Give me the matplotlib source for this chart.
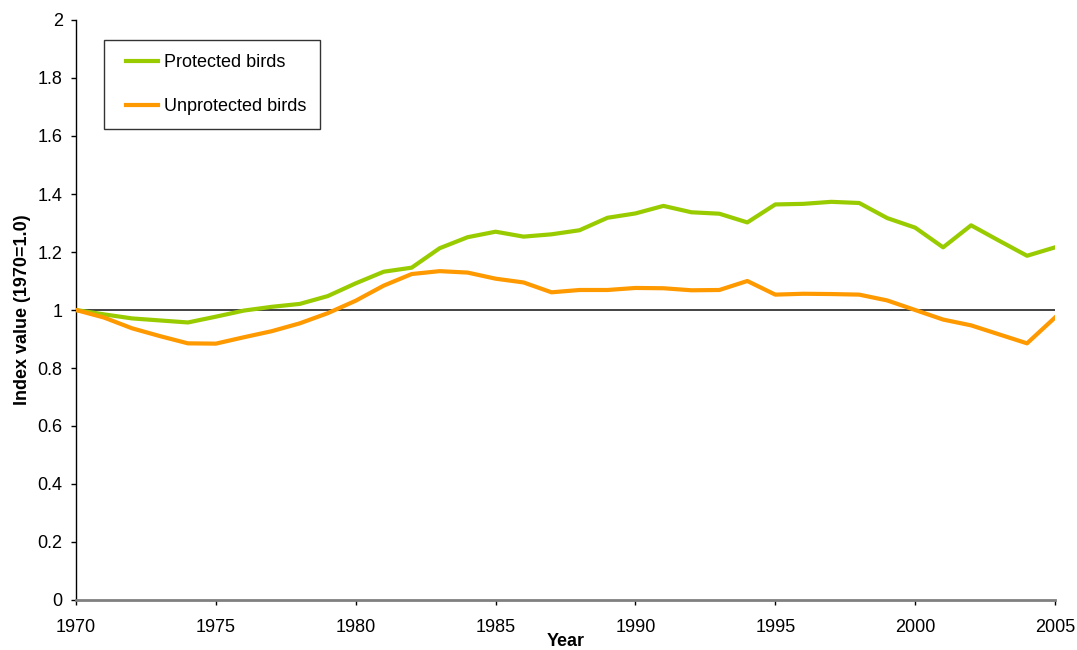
import matplotlib
matplotlib.use("Agg")
import matplotlib.pyplot as plt
from matplotlib.legend_handler import HandlerLine2D
import numpy as np

plt.rcParams['font.family'] = ['Liberation Sans', 'DejaVu Sans']

years = list(range(1970, 2006))
protected = [1.000, 0.985, 0.971, 0.964, 0.957, 0.977, 0.998, 1.011, 1.021, 1.048,
             1.092, 1.132, 1.146, 1.213, 1.251, 1.270, 1.253, 1.261, 1.275, 1.318,
             1.333, 1.359, 1.337, 1.332, 1.302, 1.364, 1.366, 1.373, 1.369, 1.317,
             1.284, 1.216, 1.292, 1.239, 1.187, 1.216]
unprotected = [1.000, 0.974, 0.937, 0.910, 0.885, 0.884, 0.906, 0.927, 0.954, 0.989,
               1.032, 1.084, 1.124, 1.134, 1.129, 1.108, 1.095, 1.061, 1.069, 1.069,
               1.076, 1.075, 1.068, 1.069, 1.100, 1.053, 1.056, 1.055, 1.053, 1.033,
               1.000, 0.967, 0.947, 0.916, 0.885, 0.974]
series_labels = ["Protected birds", "Unprotected birds"]
x_ticks = [1970, 1975, 1980, 1985, 1990, 1995, 2000, 2005]
y_ticks = [0, 0.2, 0.4, 0.6, 0.8, 1.0, 1.2, 1.4, 1.6, 1.8, 2.0]
y_tick_labels = ["0", "0.2", "0.4", "0.6", "0.8", "1", "1.2", "1.4", "1.6", "1.8", "2"]

FS = 13


class OffsetLineHandler(HandlerLine2D):
    """Legend line drawn only on the right part of the handle box."""
    def get_xdata(self, legend, xdescent, ydescent, width, height, fontsize):
        off = width * 8 / 42.0
        xdata = np.array([-xdescent + off, -xdescent + width])
        return xdata, xdata


fig = plt.figure(figsize=(10.77, 6.5), dpi=100)
ax = fig.add_axes([76/1077, 1 - 600/650, (1055 - 76)/1077, (600 - 20)/650])

ax.axhline(1.0, color='#222222', lw=1.2, zorder=1)
l1, = ax.plot(years, protected, color='#99CC00', lw=3, label=series_labels[0], zorder=3)
l2, = ax.plot(years, unprotected, color='#FF9900', lw=3, label=series_labels[1], zorder=3)

ax.set_xlim(1970, 2005)
ax.set_ylim(0, 2)
ax.set_xticks(x_ticks)
ax.set_yticks(y_ticks)
ax.set_yticklabels(y_tick_labels)
ax.tick_params(axis='both', labelsize=FS, colors='black', direction='out')
ax.tick_params(axis='x', length=3.6, width=1, color='black', pad=10)
ax.tick_params(axis='y', length=3.6, width=1, color='black', pad=6)

for s in ['top', 'right']:
    ax.spines[s].set_visible(False)
ax.spines['left'].set_color('black')
ax.spines['left'].set_linewidth(1)
ax.spines['bottom'].set_color('#808080')
ax.spines['bottom'].set_linewidth(2)

ax.set_xlabel("Year", fontsize=FS, fontweight='bold', labelpad=-2)
ax.set_ylabel("Index value (1970=1.0)", fontsize=FS, fontweight='bold', labelpad=5)

leg = ax.legend(handles=[l1, l2], loc='upper left',
                bbox_to_anchor=((104 - 76)/979, (600 - 40)/580),
                fontsize=FS, frameon=True, fancybox=False, edgecolor='black',
                borderpad=0.8, labelspacing=1.47, handlelength=2.2, handletextpad=0.3,
                borderaxespad=0,
                handler_map={l1: OffsetLineHandler(), l2: OffsetLineHandler()})
leg.get_frame().set_linewidth(1.0)

fig.savefig("out.png", dpi=100)
